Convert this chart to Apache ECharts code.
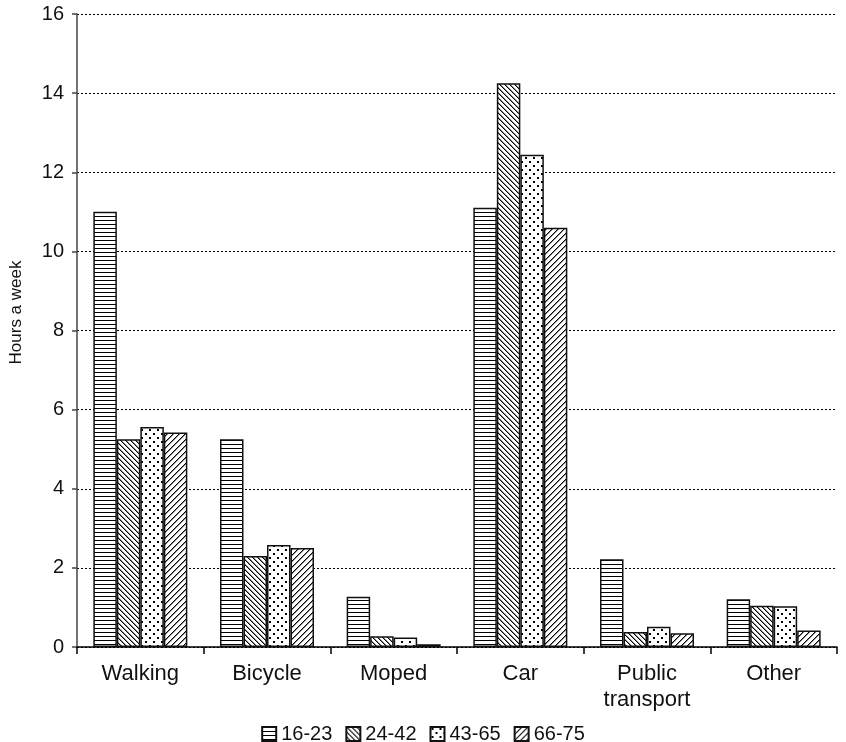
<!DOCTYPE html>
<html><head><meta charset="utf-8">
<script src="https://cdn.jsdelivr.net/npm/echarts@6/dist/echarts.min.js"></script>
<style>html,body{margin:0;padding:0;background:#fff}#c{width:846px;height:742px}</style>
</head><body><div id="c"></div>
<script>
const categories = ['Walking', 'Bicycle', 'Moped', 'Car', 'Public\ntransport', 'Other'];
const seriesNames = ['16-23', '24-42', '43-65', '66-75'];
const s16_23 = [11.0, 5.25, 1.27, 11.1, 2.22, 1.21];
const s24_42 = [5.25, 2.3, 0.27, 14.25, 0.38, 1.04];
const s43_65 = [5.56, 2.58, 0.24, 12.44, 0.51, 1.03];
const s66_75 = [5.42, 2.5, 0.07, 10.6, 0.35, 0.42];
const yTicks = [0, 2, 4, 6, 8, 10, 12, 14, 16];

function tile(w, h, draw) {
  const c = document.createElement('canvas');
  c.width = w; c.height = h;
  const ctx = c.getContext('2d');
  ctx.fillStyle = '#fff'; ctx.fillRect(0, 0, w, h);
  draw(ctx, w, h);
  return c;
}
const patH = tile(4, 4, (ctx, w) => { ctx.fillStyle = '#000'; ctx.fillRect(0, 0, w, 1); });
const patBack = tile(5, 5, (ctx, w, h) => {
  for (let x = 0; x < w; x++) for (let y = 0; y < h; y++) {
    const m = ((x - y) % 5 + 5) % 5;
    if (m === 0) { ctx.fillStyle = '#000'; ctx.fillRect(x, y, 1, 1); }
    else if (m === 1) { ctx.fillStyle = '#888'; ctx.fillRect(x, y, 1, 1); }
  }
});
const patDots = tile(8, 8, (ctx) => {
  ctx.fillStyle = '#000';
  ctx.fillRect(1, 1, 2, 2); ctx.fillRect(5, 5, 2, 2);
});
const patFwd = tile(6, 6, (ctx, w, h) => {
  for (let x = 0; x < w; x++) for (let y = 0; y < h; y++) {
    const m = (x + y) % 6;
    if (m === 0) { ctx.fillStyle = '#000'; ctx.fillRect(x, y, 1, 1); }
    else if (m === 1) { ctx.fillStyle = '#888'; ctx.fillRect(x, y, 1, 1); }
  }
});
const pats = [patH, patBack, patDots, patFwd];
const datas = [s16_23, s24_42, s43_65, s66_75];

const font = '"Liberation Sans", Arial, sans-serif';
const chart = echarts.init(document.getElementById('c'));
chart.setOption({
  animation: false,
  textStyle: { fontFamily: font },
  grid: { left: 75, right: 9, top: 14, bottom: 95 },
  legend: {
    top: 719, left: 'center', itemWidth: 14, itemHeight: 14, itemGap: 13,
    textStyle: { fontSize: 20, color: '#111', fontFamily: font },
    data: seriesNames.map(n => ({ name: n, icon: 'rect' }))
  },
  xAxis: {
    type: 'category', data: categories,
    axisLine: { lineStyle: { color: '#000', width: 1.5 } },
    axisTick: { show: true, length: 7, lineStyle: { color: '#000', width: 1.5 } },
    axisLabel: { fontSize: 22, color: '#111', margin: 14, lineHeight: 26, fontFamily: font },
    splitLine: { show: false }
  },
  yAxis: {
    type: 'value', min: 0, max: 16, interval: 2,
    name: 'Hours a week', nameLocation: 'middle', nameGap: 52, nameRotate: 90,
    nameTextStyle: { fontSize: 17, color: '#111', fontFamily: font, padding: [0, 0, 0, 36] },
    axisLine: { show: true, lineStyle: { color: '#444', width: 1.5 } },
    axisTick: { show: true, length: 5, lineStyle: { color: '#444', width: 1.5 } },
    axisLabel: { fontSize: 20, color: '#111', margin: 13, fontFamily: font,
      formatter: v => yTicks.includes(v) ? String(v) : '' },
    splitLine: { show: true, lineStyle: { color: '#000', type: [2, 2], width: 1 } }
  },
  series: seriesNames.map((n, i) => ({
    name: n, type: 'bar', data: datas[i],
    barWidth: 23.5, barGap: '0%',
    itemStyle: { color: { image: pats[i], repeat: 'repeat' }, borderColor: '#111', borderWidth: 1.5 }
  }))
});
</script></body></html>
